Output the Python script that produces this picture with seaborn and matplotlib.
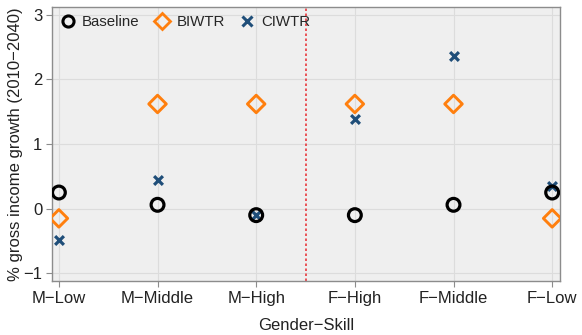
import matplotlib
matplotlib.use("Agg")
import matplotlib.pyplot as plt
from matplotlib.lines import Line2D
import seaborn as sns
import pandas as pd

categories = ["M\u2212Low", "M\u2212Middle", "M\u2212High", "F\u2212High", "F\u2212Middle", "F\u2212Low"]
baseline = [0.25, 0.06, -0.10, -0.10, 0.06, 0.25]
biwtr = [-0.15, 1.62, 1.62, 1.62, 1.62, -0.15]
ciwtr = [-0.48, 0.44, -0.10, 1.38, 2.36, 0.35]
yticks = [-1, 0, 1, 2, 3]

BLUE = "#1f4e79"
ORANGE = "#ff7f0e"

sns.set_theme(style="whitegrid")
plt.rcParams["font.family"] = ["Liberation Sans", "DejaVu Sans"]

fig = plt.figure(figsize=(5.82, 3.35), dpi=100)
ax = fig.add_axes([0.0893, 0.161, 0.873, 0.818])
ax.set_facecolor("#efefef")

df = pd.DataFrame({"cat": categories, "Baseline": baseline, "BIWTR": biwtr, "CIWTR": ciwtr})

sns.scatterplot(data=df, x="cat", y="CIWTR", ax=ax, marker="x", s=40,
                color=BLUE, linewidth=2.3, zorder=3, legend=False)
sns.scatterplot(data=df, x="cat", y="BIWTR", ax=ax, marker="D", s=80,
                facecolor="none", edgecolor=ORANGE, linewidth=2.1, zorder=4, legend=False)
sns.scatterplot(data=df, x="cat", y="Baseline", ax=ax, marker="o", s=85,
                facecolor="none", edgecolor="black", linewidth=2.3, zorder=5, legend=False)

ax.axvline(2.5, color="#e8383d", linestyle=(0, (1.5, 1.5)), linewidth=1.2, zorder=2)

ax.set_xlim(-0.07, 5.08)
ax.set_ylim(-1.12, 3.12)
ax.set_yticks(yticks)
ax.set_yticklabels(["\u22121", "0", "1", "2", "3"])
ax.grid(True, color="#dcdcdc", linewidth=0.8)
for sp in ax.spines.values():
    sp.set_color("#8c8c8c")
    sp.set_linewidth(1.0)
ax.tick_params(axis="both", which="major", length=4, color="#8c8c8c", labelsize=12,
               labelcolor="#222222", bottom=True, left=True, width=0.8, pad=3)
ax.set_xlabel("Gender\u2212Skill", fontsize=12, color="#222222", labelpad=9)
ax.set_ylabel("% gross income growth (2010\u22122040)", fontsize=12, color="#222222", labelpad=0)

handles = [
    Line2D([], [], linestyle="none", marker="o", markersize=8, markerfacecolor="none",
           markeredgecolor="black", markeredgewidth=2.2),
    Line2D([], [], linestyle="none", marker="D", markersize=8, markerfacecolor="none",
           markeredgecolor=ORANGE, markeredgewidth=2.0),
    Line2D([], [], linestyle="none", marker="x", markersize=6.5, color=BLUE,
           markeredgewidth=2.2),
]
ax.legend(handles, ["Baseline", "BIWTR", "CIWTR"], loc="upper left", ncol=3, frameon=False,
          fontsize=10.8, handletextpad=0.45, columnspacing=1.0, borderaxespad=0.25,
          handlelength=1.0, borderpad=0.3)

fig.savefig("out.png", dpi=100)
